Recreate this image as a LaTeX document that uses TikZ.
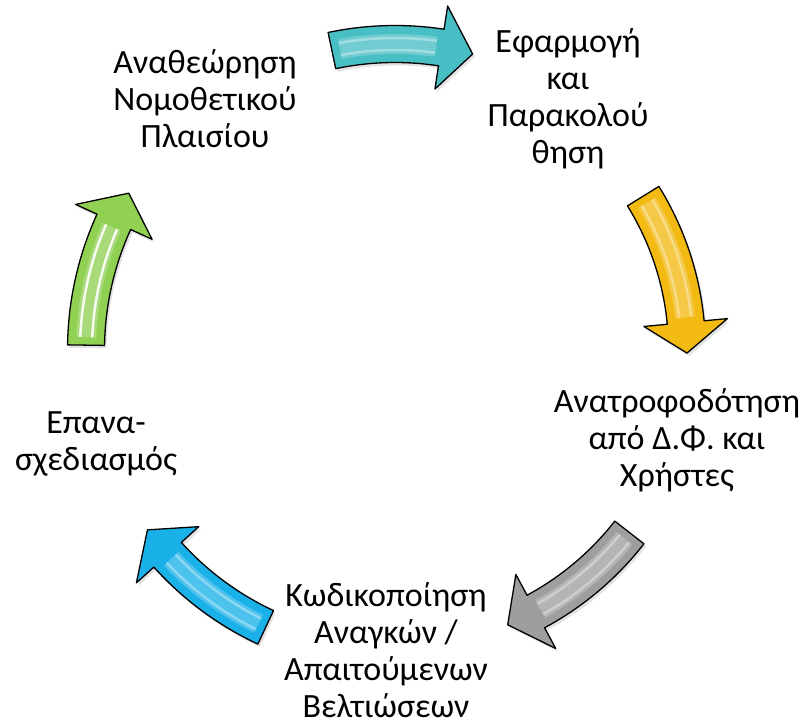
\documentclass[tikz,border=0pt]{standalone}
\usepackage{fontspec}
\setmainfont{Carlito}
\usetikzlibrary{shadows}

\definecolor{arrteal}{RGB}{72,190,197}
\definecolor{arryellow}{RGB}{242,186,18}
\definecolor{arrgray}{RGB}{158,158,158}
\definecolor{arrblue}{RGB}{26,176,232}
\definecolor{arrgreen}{RGB}{144,208,82}

\tikzset{
  step text/.style={align=center, anchor=base, inner sep=0pt, font=\fontsize{34}{37}\selectfont},
  cycle arrow/.style={draw=black, line width=1.3pt, line join=round,
    drop shadow={opacity=0.22, shadow xshift=2pt, shadow yshift=-3pt}},
}

\begin{document}
\begin{tikzpicture}[x=1pt, y=1pt]
			\useasboundingbox (0,0) rectangle (805,726);
			% Labels (placed at the baseline of their last line)
			\node[step text] (review) at (205,578) {Αναθεώρηση\\Νομοθετικού\\Πλαισίου};
			\node[step text] (apply) at (568,562) {Εφαρμογή\\και\\Παρακολού\\θηση};
			\node[step text] (feedback) at (677,240) {Ανατροφοδότηση\\από Δ.Φ. και\\Χρήστες};
			\node[step text] (coding) at (386,9) {Κωδικοποίηση\\Αναγκών /\\Απαιτούμενων\\Βελτιώσεων};
			\node[step text] (redesign) at (96,256) {Επανα-\\σχεδιασμός};
			% Arrows (radius / tail angle / tip angle / colour / gloss)
			\begin{scope}[shift={(395,376)}]
				\foreach \r/\s/\t/\c/\g in {306/101.9/75.3/arrteal/0.35, 292/31.8/-0.6/arryellow/0.35, 297/-37.9/-67.7/arrgray/0.35, 306/245/216/arrblue/0.35, 309/179.1/149.5/arrgreen/0.9} {
					\pgfmathsetmacro\hb{\t+6}
					\pgfmathsetmacro\ro{\r+18.5}
					\pgfmathsetmacro\ri{\r-18.5}
					\pgfmathsetmacro\rho{\r+42}
					\pgfmathsetmacro\rhi{\r-42}
					\pgfmathsetmacro\sa{\s-1.5}
					\pgfmathsetmacro\ea{\hb+1}
					\pgfmathsetmacro\rp{\r+6}
					\pgfmathsetmacro\rm{\r-6}
					\filldraw[cycle arrow, fill=\c] (\s:\ro) arc[start angle=\s, end angle=\hb, radius=\ro] -- (\hb:\rho) -- (\t:\r) -- (\hb:\rhi) -- (\hb:\ri) arc[start angle=\hb, end angle=\s, radius=\ri] -- cycle;
					\draw[\c!55!white, line width=20pt, opacity=0.5] (\sa:\r) arc[start angle=\sa, end angle=\ea, radius=\r];
					\draw[white, line width=2.5pt, opacity=\g] (\sa:\rp) arc[start angle=\sa, end angle=\ea, radius=\rp];
					\draw[white, line width=2.5pt, opacity=\g] (\sa:\rm) arc[start angle=\sa, end angle=\ea, radius=\rm];
				}
			\end{scope}
		\end{tikzpicture}
\end{document}
